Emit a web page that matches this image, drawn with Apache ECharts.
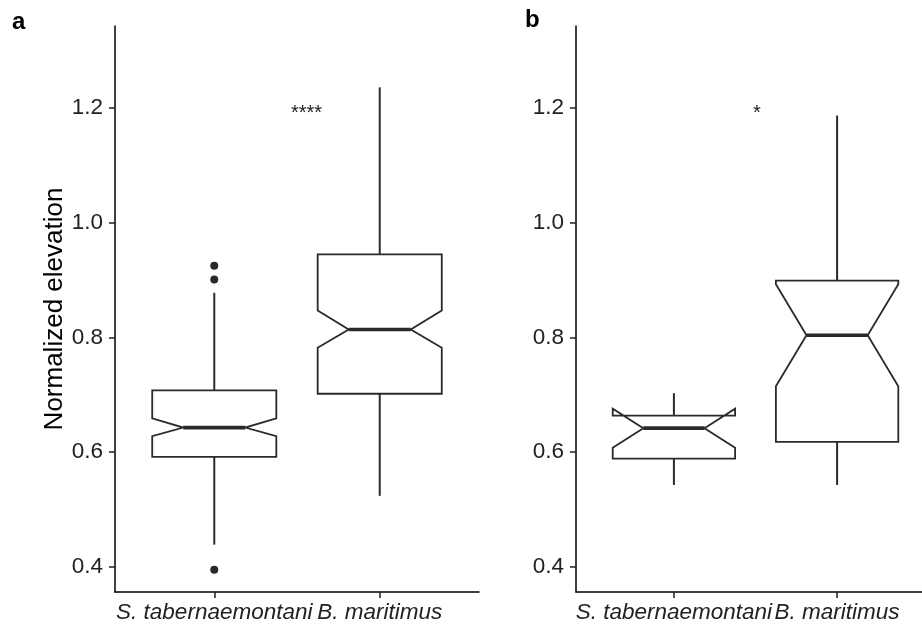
<!DOCTYPE html>
<html>
<head>
<meta charset="utf-8">
<script src="https://cdn.jsdelivr.net/npm/echarts@6/dist/echarts.min.js"></script>
<style>html,body{margin:0;padding:0;background:#fff}#c{width:922px;height:626px}</style>
</head>
<body>
<div id="c"></div>
<script>
// ---- data ----
const categories = ['S. tabernaemontani', 'B. maritimus'];
const yTicks = [0.4, 0.6, 0.8, 1.0, 1.2];
const xTicks = [1, 2];
// [x, lowerWhisker, Q1, notchLow, median, notchHigh, Q3, upperWhisker]
const boxesA = [
  [1, 0.439, 0.592, 0.628, 0.643, 0.659, 0.708, 0.878],
  [2, 0.524, 0.702, 0.782, 0.814, 0.847, 0.945, 1.236]
];
const outliersA = [[1, 0.925], [1, 0.901], [1, 0.395]];
const boxesB = [
  [1, 0.543, 0.589, 0.608, 0.642, 0.676, 0.664, 0.703],
  [2, 0.543, 0.618, 0.715, 0.804, 0.893, 0.899, 1.187]
];
const outliersB = [];
const signifA = [[1.463, 1.19, '****']];
const signifB = [[1.485, 1.19, '*']];
const yMin = 0.3564, yMax = 1.343;
const xMin = 0.4, xMax = 2.6;
const boxHalf = 0.375, notchHalf = 0.1875;

const FONT = '"Liberation Sans", Arial, sans-serif';
const LINE = '#2a2a2a';
const TXT = '#222222';

function renderBox(params, api) {
  const x = api.value(0);
  const lw = api.value(1), q1 = api.value(2), nl = api.value(3), md = api.value(4),
        nh = api.value(5), q3 = api.value(6), uw = api.value(7);
  const P = (xx, yy) => api.coord([xx, yy]);
  const xl = x - boxHalf, xr = x + boxHalf, xil = x - notchHalf, xir = x + notchHalf;
  const poly = [P(xl, q3), P(xl, nh), P(xil, md), P(xl, nl), P(xl, q1),
                P(xr, q1), P(xr, nl), P(xir, md), P(xr, nh), P(xr, q3)];
  const a = P(x, q3), b = P(x, uw), c = P(x, lw), d = P(x, q1);
  const m1 = P(xil, md), m2 = P(xir, md);
  return {
    type: 'group',
    children: [
      {type: 'line', shape: {x1: a[0], y1: a[1], x2: b[0], y2: b[1]}, style: {stroke: LINE, lineWidth: 2}},
      {type: 'line', shape: {x1: c[0], y1: c[1], x2: d[0], y2: d[1]}, style: {stroke: LINE, lineWidth: 2}},
      {type: 'polygon', shape: {points: poly}, style: {fill: '#ffffff', stroke: LINE, lineWidth: 1.8, lineJoin: 'miter'}},
      {type: 'line', shape: {x1: m1[0], y1: m1[1], x2: m2[0], y2: m2[1]}, style: {stroke: LINE, lineWidth: 3.6}}
    ]
  };
}
function renderText(params, api) {
  const p = api.coord([api.value(0), api.value(1)]);
  const s = params.dataIndex;
  const data = params.seriesId === 'sa' ? signifA : signifB;
  return {type: 'text', x: p[0], y: p[1],
    style: {text: data[s][2], font: '20px ' + FONT, fill: '#222', align: 'left', verticalAlign: 'middle'}};
}

function xAxisDef(idx) {
  return {
    type: 'value', gridIndex: idx, min: xMin, max: xMax,
    axisLine: {show: true, onZero: false, lineStyle: {color: '#000', width: 1.5}},
    axisTick: {show: true, length: 6, customValues: xTicks, lineStyle: {color: '#222', width: 1.5}},
    axisLabel: {show: true, customValues: xTicks, margin: 9, fontSize: 22.5, fontStyle: 'italic',
      fontFamily: FONT, color: TXT, formatter: v => categories[Math.round(v) - 1]},
    splitLine: {show: false}
  };
}
function yAxisDef(idx, name) {
  return {
    type: 'value', gridIndex: idx, min: yMin, max: yMax,
    name: name, nameLocation: 'middle', nameGap: 46,
    nameTextStyle: {fontSize: 26, fontFamily: FONT, color: '#000'},
    axisLine: {show: true, onZero: false, lineStyle: {color: '#000', width: 1.5}},
    axisTick: {show: true, length: 6, customValues: yTicks, lineStyle: {color: '#222', width: 1.5}},
    axisLabel: {show: true, customValues: yTicks, margin: 12, fontSize: 22.5, fontFamily: FONT,
      color: TXT, formatter: v => v.toFixed(1)},
    splitLine: {show: false}
  };
}

const chart = echarts.init(document.getElementById('c'), null, {renderer: 'canvas'});
chart.setOption({
  animation: false,
  backgroundColor: '#fff',
  grid: [
    {left: 115, top: 26, width: 364, height: 566, outerBoundsMode: 'none', containLabel: false},
    {left: 576, top: 26, width: 359, height: 566, outerBoundsMode: 'none', containLabel: false}
  ],
  xAxis: [xAxisDef(0), xAxisDef(1)],
  yAxis: [yAxisDef(0, 'Normalized elevation'), yAxisDef(1, '')],
  graphic: [
    {type: 'text', left: 12, top: 10, style: {text: 'a', font: 'bold 24px ' + FONT, fill: '#000'}},
    {type: 'text', left: 525, top: 8, style: {text: 'b', font: 'bold 24px ' + FONT, fill: '#000'}}
  ],
  series: [
    {type: 'custom', xAxisIndex: 0, yAxisIndex: 0, renderItem: renderBox, data: boxesA, clip: false},
    {type: 'scatter', xAxisIndex: 0, yAxisIndex: 0, data: outliersA, symbolSize: 8,
      itemStyle: {color: LINE, opacity: 1}, silent: true},
    {type: 'custom', id: 'sa', xAxisIndex: 0, yAxisIndex: 0, renderItem: renderText, data: signifA.map(d => [d[0], d[1]])},
    {type: 'custom', xAxisIndex: 1, yAxisIndex: 1, renderItem: renderBox, data: boxesB, clip: false},
    {type: 'scatter', xAxisIndex: 1, yAxisIndex: 1, data: outliersB, symbolSize: 8,
      itemStyle: {color: LINE, opacity: 1}, silent: true},
    {type: 'custom', id: 'sb', xAxisIndex: 1, yAxisIndex: 1, renderItem: renderText, data: signifB.map(d => [d[0], d[1]])}
  ]
});
</script>
</body>
</html>
